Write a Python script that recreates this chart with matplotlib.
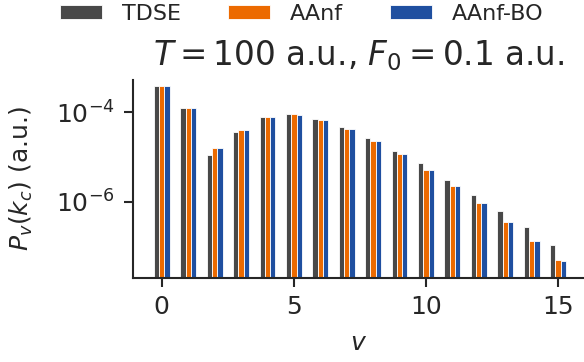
import numpy as np
import matplotlib
matplotlib.use("Agg")
import matplotlib.pyplot as plt
from matplotlib.ticker import FixedLocator, NullLocator, LogFormatterSciNotation

# vibrational level
v = np.arange(16)

# dissociation probability at k_c for each level
tdse = [3.85e-4, 1.27e-4, 1.12e-5, 3.58e-5, 7.86e-5, 9.02e-5, 7.20e-5, 4.64e-5,
        2.67e-5, 1.39e-5, 7.30e-6, 3.14e-6, 1.43e-6, 6.40e-7, 2.73e-7, 1.10e-7]
aanf = [3.92e-4, 1.27e-4, 1.60e-5, 4.03e-5, 7.98e-5, 9.00e-5, 6.84e-5, 4.31e-5,
        2.29e-5, 1.19e-5, 5.25e-6, 2.27e-6, 9.64e-7, 3.64e-7, 1.37e-7, 5.09e-8]
aanf_bo = [3.92e-4, 1.27e-4, 1.60e-5, 4.03e-5, 7.86e-5, 8.57e-5, 6.64e-5, 4.25e-5,
           2.29e-5, 1.16e-5, 5.25e-6, 2.27e-6, 9.35e-7, 3.64e-7, 1.37e-7, 4.91e-8]

series_labels = ["TDSE", "AAnf", "AAnf-BO"]
series_colors = ["#484848", "#EC6A00", "#1F4FA0"]
x_ticks = [0, 5, 10, 15]
y_ticks = [1e-6, 1e-4]

text_color = "#262626"
plt.rcParams["font.family"] = ["DejaVu Sans"]
plt.rcParams["text.color"] = text_color
plt.rcParams["axes.labelcolor"] = text_color
plt.rcParams["xtick.color"] = text_color
plt.rcParams["ytick.color"] = text_color

W, H = 584, 362
fig = plt.figure(figsize=(W / 100, H / 100), dpi=100)
left, right, top, bottom = 133, 583.5, 80, 277.7
ax = fig.add_axes([left / W, 1 - bottom / H, (right - left) / W, (bottom - top) / H])

width = 0.2
offsets = [-0.2, 0.0, 0.2]
ybase = 1e-9
for vals, off, col, lab in zip([tdse, aanf, aanf_bo], offsets, series_colors, series_labels):
    vals = np.asarray(vals)
    ax.bar(v + off, vals - ybase, width=width, bottom=ybase, color=col,
           edgecolor="white", linewidth=0.6, label=lab)

ax.set_yscale("log")
ax.set_ylim(2.05e-8, 5.25e-4)
ax.set_xlim(-1.087, 15.96)

ax.yaxis.set_major_locator(FixedLocator(y_ticks))
ax.yaxis.set_major_formatter(LogFormatterSciNotation())
ax.yaxis.set_minor_locator(NullLocator())
ax.xaxis.set_major_locator(FixedLocator(x_ticks))

for s in ["top", "right"]:
    ax.spines[s].set_visible(False)
for s in ["left", "bottom"]:
    ax.spines[s].set_linewidth(1.5)
    ax.spines[s].set_color(text_color)

ax.tick_params(axis="both", which="major", labelsize=18, width=1.5, length=6.3, pad=6.5)

ax.set_xlabel(r"$v$", fontsize=18)
ax.set_ylabel(r"$P_v(k_c)$ (a.u.)", fontsize=18)
ax.yaxis.set_label_coords(-0.218, 0.5)
ax.xaxis.set_label_coords(0.5, -0.27)

ax.set_title(r"$T = 100$ a.u., $F_0 = 0.1$ a.u.", fontsize=23.5, color=text_color, pad=10.8)

handles, labels = ax.get_legend_handles_labels()
fig.legend(handles, labels, loc="upper center", bbox_to_anchor=(302 / W, 1.045),
           ncol=3, frameon=False, fontsize=16, handlelength=1.9,
           handleheight=0.6, handletextpad=0.9, columnspacing=2.1)

fig.savefig("out.png", dpi=100)
